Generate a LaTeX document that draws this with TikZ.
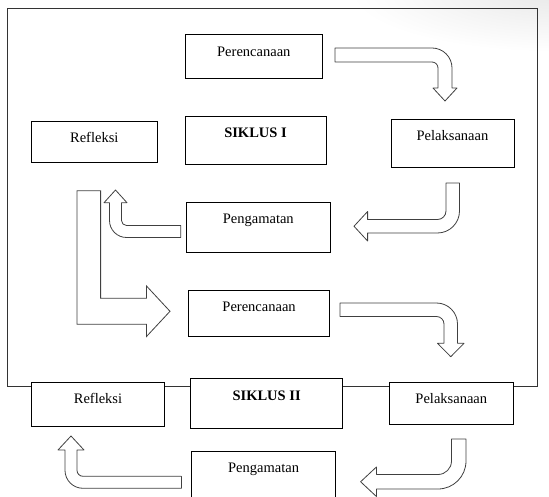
\documentclass[tikz,border=0pt]{standalone}
\usepackage{fontspec}
\setmainfont{Liberation Serif}
\tikzset{
  box/.style 2 args={draw, fill=white, line width=0.9pt, inner sep=0pt, anchor=north,
      minimum width=#1, text height=21.5pt, text depth=#2,
      font=\fontsize{14.5}{17}\selectfont},
  blockarrow/.style={draw=black!75, fill=white, line width=0.8pt, line join=round}
}

\begin{document}
\begin{tikzpicture}[x=1pt, y=-1pt]
    \useasboundingbox (0,0) rectangle (549,497);
    \clip (0,0) rectangle (549,497);
    % faint shadow in the top right corner
    \shade[inner color=black!9, outer color=white] (560,-8) ellipse [x radius=210, y radius=60];
    % frame of the first cycle
    \draw[black!80, line width=0.9pt] (7.7,8.3) rectangle (537.5,386);

    % cycle I
    \node[box={136.4pt}{21.9pt}] (plan1) at (253.8,34.3)  {Perencanaan};
    \node[box={125.5pt}{20.1pt}] (refl1) at (94.3,120.7)  {Refleksi};
    \node[box={141pt}{26.5pt}]   (cyc1)  at (255.5,116)   {\textbf{SIKLUS I}};
    \node[box={123pt}{26.5pt}]   (do1)   at (452.5,119)   {Pelaksanaan};
    \node[box={143.4pt}{28.8pt}] (obs1)  at (258.3,202)   {Pengamatan};
    % cycle II
    \node[box={141.4pt}{24.2pt}] (plan2) at (259.1,290)   {Perencanaan};
    \node[box={133.1pt}{22.8pt}] (refl2) at (98,381.7)    {Refleksi};
    \node[box={151.6pt}{28.5pt}] (cyc2)  at (266.6,378.3) {\textbf{SIKLUS II}};
    \node[box={123.3pt}{21.1pt}] (do2)   at (451.3,381.7) {Pelaksanaan};
    \node[box={143.5pt}{33.5pt}] (obs2)  at (263.6,450.7) {Pengamatan};

    % plan1 -> do1
    \draw[blockarrow] (335,48) -- (432,48) .. controls (443.04,48) and (452,56.96) .. (452,68)
        -- (452,88) -- (457,88) -- (445,101) -- (433,88) -- (438,88) -- (438,68)
        .. controls (438,64.69) and (435.31,62) .. (432,62) -- (335,62) -- cycle;
    % do1 -> obs1
    \draw[blockarrow] (446,183) -- (459.5,183) -- (459.5,211)
        .. controls (459.5,223.14) and (449.64,233) .. (437.5,233)
        -- (367.6,233) -- (367.6,241) -- (354,226.25) -- (367.6,211.5) -- (367.6,219.5)
        -- (437.5,219.5) .. controls (442.19,219.5) and (446,215.69) .. (446,211) -- cycle;
    % obs1 -> refl1
    \draw[blockarrow] (180.7,225.5) -- (180.7,237.5) -- (126.5,237.5)
        .. controls (117.12,237.5) and (109.5,229.88) .. (109.5,220.5)
        -- (109.5,202.7) -- (104,202.7) -- (115.5,190) -- (127,202.7) -- (121.5,202.7)
        -- (121.5,220.5) .. controls (121.5,223.26) and (123.74,225.5) .. (126.5,225.5) -- cycle;
    % refl1 -> plan2
    \draw[blockarrow, line join=miter] (77,190.7) -- (100.6,190.7) -- (100.6,298.3) -- (146.5,298.3)
        -- (146.5,286) -- (170,311.3) -- (146.5,336.5) -- (146.5,324.3) -- (77,324.3) -- cycle;
    % plan2 -> do2
    \draw[blockarrow] (340,303) -- (436.5,303) .. controls (448.09,303) and (457.5,312.41) .. (457.5,324)
        -- (457.5,343.3) -- (464,343.3) -- (450.75,356.7) -- (437.5,343.3) -- (444,343.3) -- (444,324)
        .. controls (444,319.86) and (440.64,316.5) .. (436.5,316.5) -- (340,316.5) -- cycle;
    % do2 -> obs2
    \draw[blockarrow] (451.5,439) -- (466,439) -- (466,461)
        .. controls (466,476.46) and (453.46,489) .. (438,489)
        -- (376.4,489) -- (376.4,496.5) -- (360.6,481.75) -- (376.4,467) -- (376.4,474.5)
        -- (438,474.5) .. controls (445.45,474.5) and (451.5,468.45) .. (451.5,461) -- cycle;
    % obs2 -> refl2
    \draw[blockarrow] (181.4,476.3) -- (181.4,488.3) -- (83,488.3)
        .. controls (73.06,488.3) and (65,480.24) .. (65,470.3)
        -- (65,450) -- (58,450) -- (71,436) -- (84,450) -- (77,450)
        -- (77,470.3) .. controls (77,473.61) and (79.69,476.3) .. (83,476.3) -- cycle;
\end{tikzpicture}
\end{document}
